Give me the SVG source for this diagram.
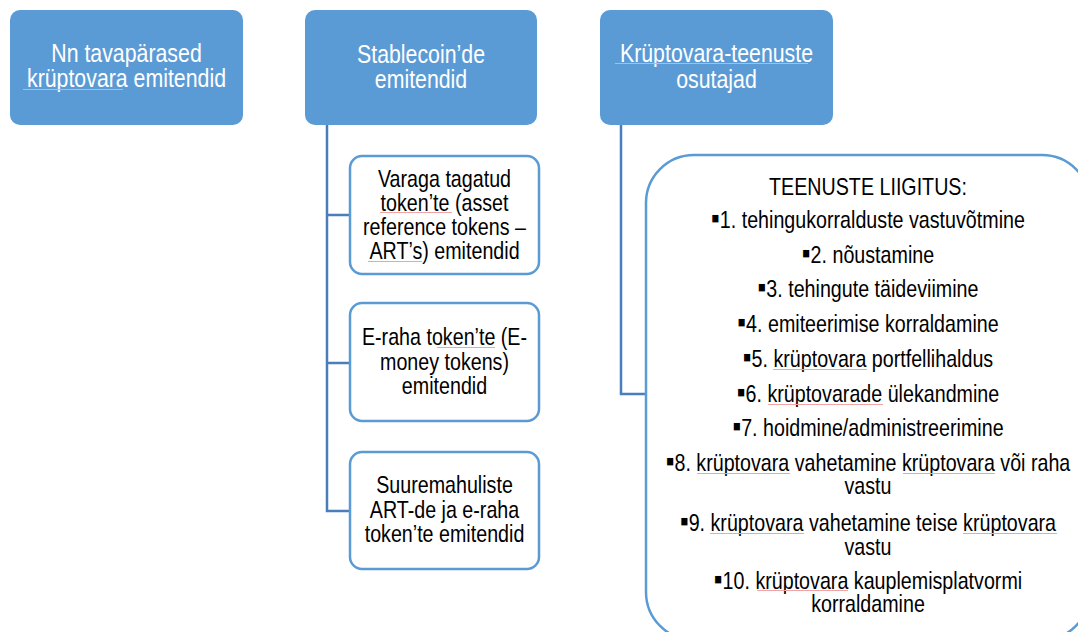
<svg xmlns="http://www.w3.org/2000/svg" width="1078" height="632" viewBox="0 0 1078 632">
<style>
text{font-family:"Liberation Sans",Arial,sans-serif;text-anchor:middle}
.hdr{fill:#5B9BD5}
.ht{font-size:26px;fill:#fff}
.sub{fill:#fff;stroke:#5B9BD5;stroke-width:2.5}
.st{font-size:24px;fill:#000}
.b{font-size:30px}
.conn{stroke:#4A7EBB;stroke-width:2.5;fill:none}
.sq{stroke:#f2a3a5;stroke-width:1;fill:none}
</style>
<rect width="1078" height="632" fill="#fff"/>
<g id="connectors">
<path class="conn" d="M327,125 V511 H350 M327,215 H350 M327,363 H350"/>
<path class="conn" d="M621,125 V394 H646"/>
</g>
<g id="node-tavaparased">
<rect class="hdr" x="10" y="10" width="233" height="115" rx="10"/>
<g transform="translate(126.5,0) scale(0.82,1)">
<text class="ht" x="0" y="62.5">Nn tavapärased</text>
<text class="ht" x="0" y="87.5">krüptovara emitendid</text>
</g>
</g>
<g id="node-stablecoin">
<rect class="hdr" x="305" y="10" width="232" height="115" rx="10"/>
<g transform="translate(421,0) scale(0.82,1)">
<text class="ht" x="0" y="63">Stablecoin’de</text>
<text class="ht" x="0" y="88">emitendid</text>
</g>
</g>
<g id="node-teenuste-osutajad">
<rect class="hdr" x="600" y="10" width="233" height="115" rx="10"/>
<g transform="translate(716.5,0) scale(0.82,1)">
<text class="ht" x="0" y="62">Krüptovara-teenuste</text>
<text class="ht" x="0" y="88">osutajad</text>
</g>
</g>
<g id="node-art">
<rect class="sub" x="350" y="156" width="189" height="118" rx="12"/>
<g transform="translate(444.5,0) scale(0.82,1)">
<text class="st" x="0" y="187">Varaga tagatud</text>
<text class="st" x="0" y="211">token’te (asset</text>
<text class="st" x="0" y="235">reference tokens –</text>
<text class="st" x="0" y="259">ART’s) emitendid</text>
</g>
</g>
<g id="node-emt">
<rect class="sub" x="350" y="303" width="189" height="118" rx="12"/>
<g transform="translate(444.5,0) scale(0.82,1)">
<text class="st" x="0" y="345">E-raha token’te (E-</text>
<text class="st" x="0" y="370">money tokens)</text>
<text class="st" x="0" y="394">emitendid</text>
</g>
</g>
<g id="node-suuremahulised">
<rect class="sub" x="350" y="452" width="189" height="117" rx="12"/>
<g transform="translate(444.5,0) scale(0.82,1)">
<text class="st" x="0" y="493">Suuremahuliste</text>
<text class="st" x="0" y="518">ART-de ja e-raha</text>
<text class="st" x="0" y="542">token’te emitendid</text>
</g>
</g>
<g id="node-teenuste-liigitus">
<path class="sub" d="M694,155 H1042 A48,48 0 0 1 1090,203 V592 A48,48 0 0 1 1042,640 H694 A48,48 0 0 1 646,592 V203 A48,48 0 0 1 694,155 Z"/>
<g transform="translate(868,0) scale(0.82,1)">
<text class="st" x="0" y="195">TEENUSTE LIIGITUS:</text>
<text class="st" x="0" y="228"><tspan class="b">▪</tspan>1. tehingukorralduste vastuvõtmine</text>
<text class="st" x="0" y="263"><tspan class="b">▪</tspan>2. nõustamine</text>
<text class="st" x="0" y="297"><tspan class="b">▪</tspan>3. tehingute täideviimine</text>
<text class="st" x="0" y="332"><tspan class="b">▪</tspan>4. emiteerimise korraldamine</text>
<text class="st" x="0" y="367"><tspan class="b">▪</tspan>5. krüptovara portfellihaldus</text>
<text class="st" x="0" y="402"><tspan class="b">▪</tspan>6. krüptovarade ülekandmine</text>
<text class="st" x="0" y="436"><tspan class="b">▪</tspan>7. hoidmine/administreerimine</text>
<text class="st" x="0" y="471"><tspan class="b">▪</tspan>8. krüptovara vahetamine krüptovara või raha</text>
<text class="st" x="0" y="494">vastu</text>
<text class="st" x="0" y="531"><tspan class="b">▪</tspan>9. krüptovara vahetamine teise krüptovara</text>
<text class="st" x="0" y="555">vastu</text>
<text class="st" x="0" y="589"><tspan class="b">▪</tspan>10. krüptovara kauplemisplatvormi</text>
<text class="st" x="0" y="612" fill="#333">korraldamine</text>
</g>
</g>
<g id="spellcheck-marks">
<path class="sq" d="M23,89.5 H123"/>
<path class="sq" d="M615,63.5 H808"/>
<path class="sq" d="M380,212.5 H452"/>
<path class="sq" d="M368,261.5 H422"/>
<path class="sq" d="M437,347.5 H495"/>
<path class="sq" d="M773,369.5 H867"/>
<path class="sq" d="M768,404.5 H883"/>
<path class="sq" d="M697,473.5 H790 M903,473.5 H995"/>
<path class="sq" d="M710,533.5 H804 M963,533.5 H1057"/>
<path class="sq" d="M757,590.5 H848"/>
</g>
</svg>
